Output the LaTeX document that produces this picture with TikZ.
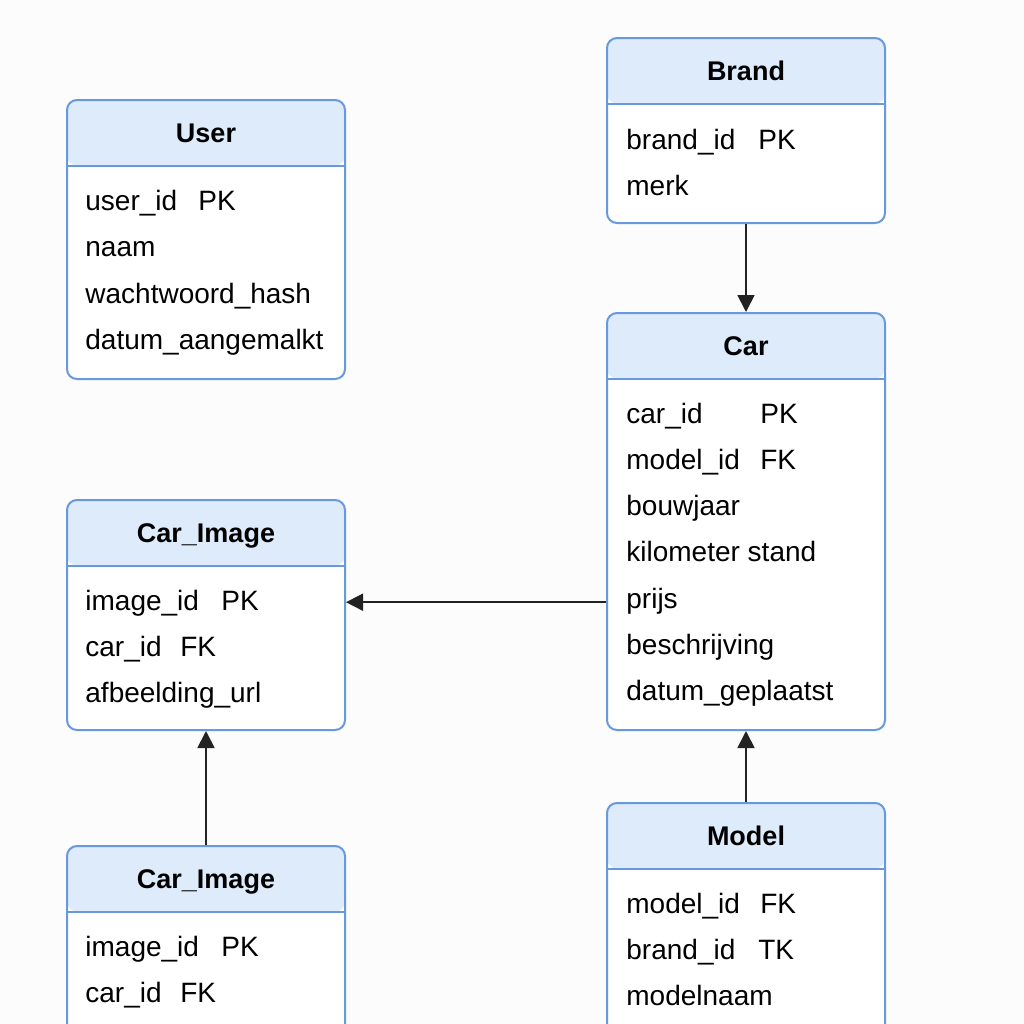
\documentclass[tikz,border=0pt]{standalone}
\usepackage{fontspec}
\setmainfont{Liberation Sans}
\usetikzlibrary{arrows.meta}

\definecolor{randblauw}{RGB}{104,152,222}
\definecolor{kopblauw}{RGB}{221,235,251}
\definecolor{lijnkleur}{RGB}{34,34,34}
\definecolor{achtergrond}{RGB}{252,252,252}

\newcommand{\sleutel}[3]{\makebox[#1][l]{#2}#3}

\tikzset{
	tabel/.style={draw=randblauw, line width=1pt, rounded corners=5pt, fill=white,
		anchor=north west, inner sep=0pt, minimum width=139pt,
		path picture={
			\fill[kopblauw] (path picture bounding box.north west) rectangle ([yshift=-32.75pt]path picture bounding box.north east);
			\draw[randblauw, line width=1pt] ([yshift=-32.75pt]path picture bounding box.north west) -- ([yshift=-32.75pt]path picture bounding box.north east);
		}},
	titel/.style={font=\fontsize{13.5}{16}\selectfont\bfseries, text height=10pt, text depth=0pt, inner sep=0pt},
	veld/.style={font=\fontsize{14}{17}\selectfont, anchor=west, text height=8pt, text depth=2pt, inner sep=0pt},
	relatie/.style={draw=lijnkleur, line width=0.9pt, -{Triangle[length=8.5pt,width=8.5pt]}},
}

\begin{document}
\begin{tikzpicture}[x=0.5pt, y=-0.5pt]
		\useasboundingbox (0,0) rectangle (1024,1024);
		\clip (0,0) rectangle (1024,1024);
		\fill[achtergrond] (0,0) rectangle (1024,1024);
		
		% Tabellen
		\node[tabel, minimum height=139.5pt] (user) at (66,99) {};
		\node[tabel, minimum height=92.5pt] (brand) at (606,37) {};
		\node[tabel, minimum height=208.5pt] (car) at (606,312) {};
		\node[tabel, minimum height=115pt] (carimage) at (66,499) {};
		\node[tabel, minimum height=140pt] (carimage2) at (66,845) {};
		\node[tabel, minimum height=140pt] (model) at (606,802) {};
		
		% Titels
		\node[titel] (user-t) at ([yshift=-16.75pt]user.north) {User};
		\node[titel] (brand-t) at ([yshift=-16.75pt]brand.north) {Brand};
		\node[titel] (car-t) at ([yshift=-16.75pt]car.north) {Car};
		\node[titel] (carimage-t) at ([yshift=-16.75pt]carimage.north) {Car\_Image};
		\node[titel] (carimage2-t) at ([yshift=-16.75pt]carimage2.north) {Car\_Image};
		\node[titel] (model-t) at ([yshift=-16.75pt]model.north) {Model};
		
		% Velden
		\foreach \n [count=\i] in {{\sleutel{56.5pt}{user\_id}{PK}}, naam, wachtwoord\_hash, datum\_aangemalkt}
			\node[veld] (user-\i) at ([xshift=9.5pt, yshift={-(52.5+23.3*(\i-1))*1pt}]user.north west) {\n};
		\foreach \n [count=\i] in {{\sleutel{66pt}{brand\_id}{PK}}, merk}
			\node[veld] (brand-\i) at ([xshift=10pt, yshift={-(53+23.3*(\i-1))*1pt}]brand.north west) {\n};
		\foreach \n [count=\i] in {{\sleutel{67pt}{car\_id}{PK}}, {\sleutel{67pt}{model\_id}{FK}}, bouwjaar, kilometer stand, prijs, beschrijving, datum\_geplaatst}
			\node[veld] (car-\i) at ([xshift=10pt, yshift={-(52.5+23.15*(\i-1))*1pt}]car.north west) {\n};
		\foreach \n [count=\i] in {{\sleutel{68pt}{image\_id}{PK}}, {\sleutel{47.5pt}{car\_id}{FK}}, afbeelding\_url}
			\node[veld] (carimage-\i) at ([xshift=9.5pt, yshift={-(52.5+23*(\i-1))*1pt}]carimage.north west) {\n};
		\foreach \n [count=\i] in {{\sleutel{68pt}{image\_id}{PK}}, {\sleutel{47.5pt}{car\_id}{FK}}}
			\node[veld] (carimage2-\i) at ([xshift=9.5pt, yshift={-(52.5+23*(\i-1))*1pt}]carimage2.north west) {\n};
		\foreach \n [count=\i] in {{\sleutel{67pt}{model\_id}{FK}}, {\sleutel{66pt}{brand\_id}{TK}}, modelnaam}
			\node[veld] (model-\i) at ([xshift=10pt, yshift={-(52.5+23*(\i-1))*1pt}]model.north west) {\n};
		
		% Relaties
		\draw[relatie] (brand.south) -- (car.north);
		\draw[relatie] (model.north) -- (car.south);
		\draw[relatie] (car-5 -| car.west) -- (car-5 -| carimage.east);
		\draw[relatie] (carimage2.north) -- (carimage.south);
	\end{tikzpicture}
\end{document}
